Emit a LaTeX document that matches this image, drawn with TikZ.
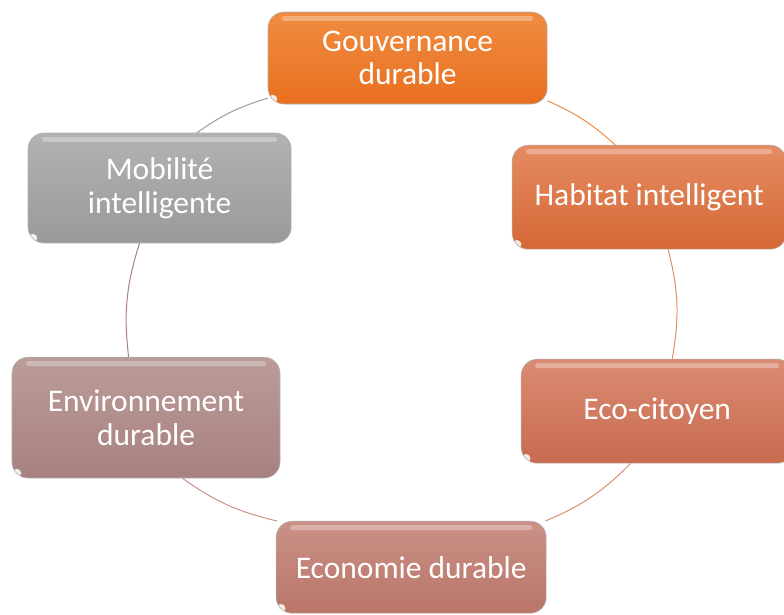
\documentclass[tikz,border=0pt]{standalone}
\usepackage{fontspec}
\setmainfont{Carlito}

\definecolor{gouvHaut}{HTML}{F08C42}
\definecolor{gouvBas}{HTML}{E8701F}
\definecolor{habHaut}{HTML}{E58B62}
\definecolor{habBas}{HTML}{D56835}
\definecolor{ecoHaut}{HTML}{DA8B72}
\definecolor{ecoBas}{HTML}{C86B4F}
\definecolor{econHaut}{HTML}{CA9187}
\definecolor{econBas}{HTML}{B97568}
\definecolor{envHaut}{HTML}{BB9C99}
\definecolor{envBas}{HTML}{A78180}
\definecolor{mobHaut}{HTML}{B2B2B2}
\definecolor{mobBas}{HTML}{9A9A9A}

\begin{document}
\begin{tikzpicture}[
    etape/.style={rounded corners=0.4cm, draw=white!70!black, line width=0.4pt,
        text=white, align=center, inner sep=0pt,
        font=\fontsize{22.4}{24}\selectfont,
        path picture={
            \fill[white,opacity=0.3,rounded corners=0.05cm]
                ([xshift=0.35cm,yshift=-0.1cm]path picture bounding box.north west) rectangle
                ([xshift=-0.35cm,yshift=-0.22cm]path picture bounding box.north east);
            \fill[white,opacity=0.85]
                ([xshift=0.12cm,yshift=0.12cm]path picture bounding box.south west) circle (0.11cm);
        }},
    lien/.style={line width=0.7pt}
]
    \useasboundingbox (0,0) rectangle (19.6,-15.35);

    % Etapes
    \node[etape, top color=gouvHaut, bottom color=gouvBas, minimum width=6.98cm, minimum height=2.3cm]
        (gouv) at (10.19,-1.45) {Gouvernance\\durable};
    \node[etape, top color=habHaut, bottom color=habBas, minimum width=6.85cm, minimum height=2.6cm]
        (hab) at (16.23,-4.93) {Habitat intelligent};
    \node[etape, top color=ecoHaut, bottom color=ecoBas, minimum width=6.8cm, minimum height=2.6cm]
        (eco) at (16.43,-10.28) {Eco-citoyen};
    \node[etape, top color=econHaut, bottom color=econBas, minimum width=6.75cm, minimum height=2.3cm]
        (econ) at (10.28,-14.18) {Economie durable};
    \node[etape, top color=envHaut, bottom color=envBas, minimum width=6.7cm, minimum height=3.02cm]
        (env) at (3.65,-10.44) {Environnement\\durable};
    \node[etape, top color=mobHaut, bottom color=mobBas, minimum width=6.58cm, minimum height=2.75cm]
        (mob) at (3.99,-4.7) {Mobilité\\intelligente};

    % Cercle
    \draw[lien, color=gouvHaut] (gouv.343) to[bend left=9] (hab.123);
    \draw[lien, color=habHaut] (hab.290) to[bend left=12] (eco.74);
    \draw[lien, color=ecoHaut] (eco.243) to[bend left=11] (econ.19);
    \draw[lien, color=econHaut] (econ.161) to[bend left=11] (env.301);
    \draw[lien, color=envBas] (env.106) to[bend left=12] (mob.250);
    \draw[lien, color=mobBas] (mob.56) to[bend left=9] (gouv.196);
\end{tikzpicture}
\end{document}
